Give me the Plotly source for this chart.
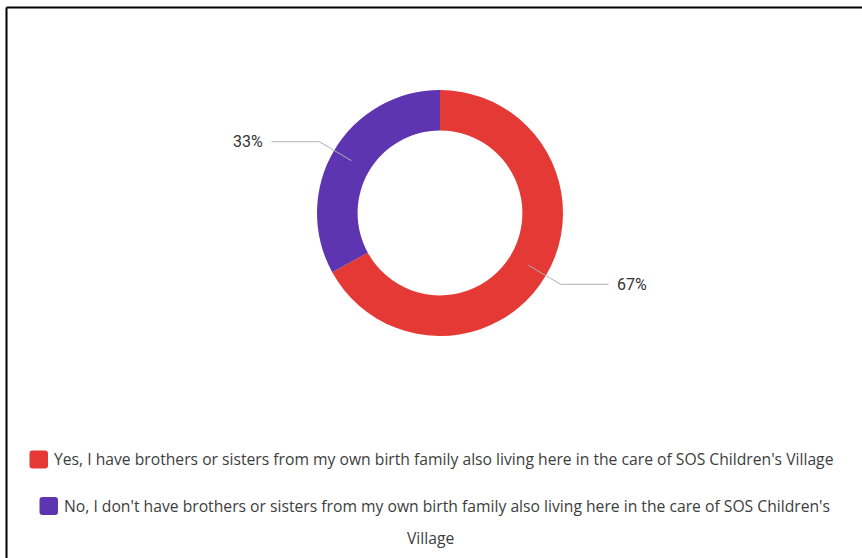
import math
import plotly.graph_objects as go

# ---- data ----
labels = [
    "Yes, I have brothers or sisters from my own birth family also living here in the care of SOS Children's Village",
    "No, I don't have brothers or sisters from my own birth family also living here in the care of SOS Children's Village",
]
values = [67, 33]
colors = ["#e53935", "#5e35b1"]

W, H = 862, 558
CX, CY = 440, 213          # pie centre (px, from top-left)
R_OUT = 123
HOLE = 0.67

def px(x):
    return x / W

def py(y):
    return 1 - y / H

fig = go.Figure(go.Pie(
    labels=labels,
    values=values,
    marker=dict(colors=colors, line=dict(width=0)),
    hole=HOLE,
    sort=False,
    direction="clockwise",
    rotation=0,
    textinfo="none",
    hoverinfo="label+percent",
    showlegend=False,
    domain=dict(x=[px(CX - R_OUT), px(CX + R_OUT)], y=[py(CY + R_OUT), py(CY - R_OUT)]),
))

shapes = []
annotations = []

# leader lines and percentage labels computed from the values
total = sum(values)
cum = 0
r_mid = R_OUT * (1 + HOLE) / 2
r_elbow = 140
for v in values:
    frac_mid = (cum + v / 2) / total
    cum += v
    ang = 2 * math.pi * frac_mid  # clockwise from 12 o'clock
    sx, sy = math.sin(ang), -math.cos(ang)
    x0, y0 = CX + r_mid * sx, CY + r_mid * sy
    x1, y1 = CX + r_elbow * sx, CY + r_elbow * sy
    side = 1 if sx >= 0 else -1
    x2 = x1 + side * 48
    path = f"M {px(x0)} {py(y0)} L {px(x1)} {py(y1)} L {px(x2)} {py(y1)}"
    shapes.append(dict(type="path", xref="paper", yref="paper", path=path,
                       line=dict(color="#b0b0b0", width=1)))
    pct = round(100 * v / total)
    annotations.append(dict(
        x=px(x2 + side * 6), y=py(y1), xref="paper", yref="paper",
        text=f"{pct}%", showarrow=False,
        xanchor="left" if side > 0 else "right", yanchor="middle",
        font=dict(family="Roboto, Arial", size=16, color="#333333"),
    ))

# legend drawn as rows: rounded swatch + text
legend_font = dict(family="Open Sans, Arial", size=15.7, color="#3d3d3d")

def swatch(x, y, w, h, r, color):
    p = (f"M {px(x + r)} {py(y)} L {px(x + w - r)} {py(y)} "
         f"Q {px(x + w)} {py(y)} {px(x + w)} {py(y + r)} "
         f"L {px(x + w)} {py(y + h - r)} Q {px(x + w)} {py(y + h)} {px(x + w - r)} {py(y + h)} "
         f"L {px(x + r)} {py(y + h)} Q {px(x)} {py(y + h)} {px(x)} {py(y + h - r)} "
         f"L {px(x)} {py(y + r)} Q {px(x)} {py(y)} {px(x + r)} {py(y)} Z")
    return dict(type="path", xref="paper", yref="paper", path=p,
                fillcolor=color, line=dict(width=0))

shapes.append(swatch(29.5, 450.5, 18.5, 18, 3, colors[0]))
annotations.append(dict(x=px(52), y=py(459), xref="paper", yref="paper", text=labels[0],
                        showarrow=False, xanchor="left", yanchor="middle", font=legend_font))
words = labels[1].rsplit(" ", 1)
shapes.append(swatch(39.5, 497, 18.5, 18, 3, colors[1]))
annotations.append(dict(x=px(62), y=py(506), xref="paper", yref="paper", text=words[0],
                        showarrow=False, xanchor="left", yanchor="middle", font=legend_font))
annotations.append(dict(x=px(430), y=py(538), xref="paper", yref="paper", text=words[1],
                        showarrow=False, xanchor="center", yanchor="middle", font=legend_font))

# frame (left and top edges)
shapes.append(dict(type="line", xref="paper", yref="paper", x0=px(6.5), x1=px(6.5),
                   y0=0, y1=py(7.5), line=dict(color="#000000", width=2)))
shapes.append(dict(type="line", xref="paper", yref="paper", x0=px(6.5), x1=1,
                   y0=py(7.5), y1=py(7.5), line=dict(color="#000000", width=2)))

fig.update_layout(
    width=W, height=H,
    margin=dict(l=0, r=0, t=0, b=0),
    paper_bgcolor="white",
    plot_bgcolor="white",
    shapes=shapes,
    annotations=annotations,
)

fig.write_html("out.html",
               config={"displayModeBar": False},
               post_script="document.body.style.margin='0';document.body.style.overflow='hidden';")
